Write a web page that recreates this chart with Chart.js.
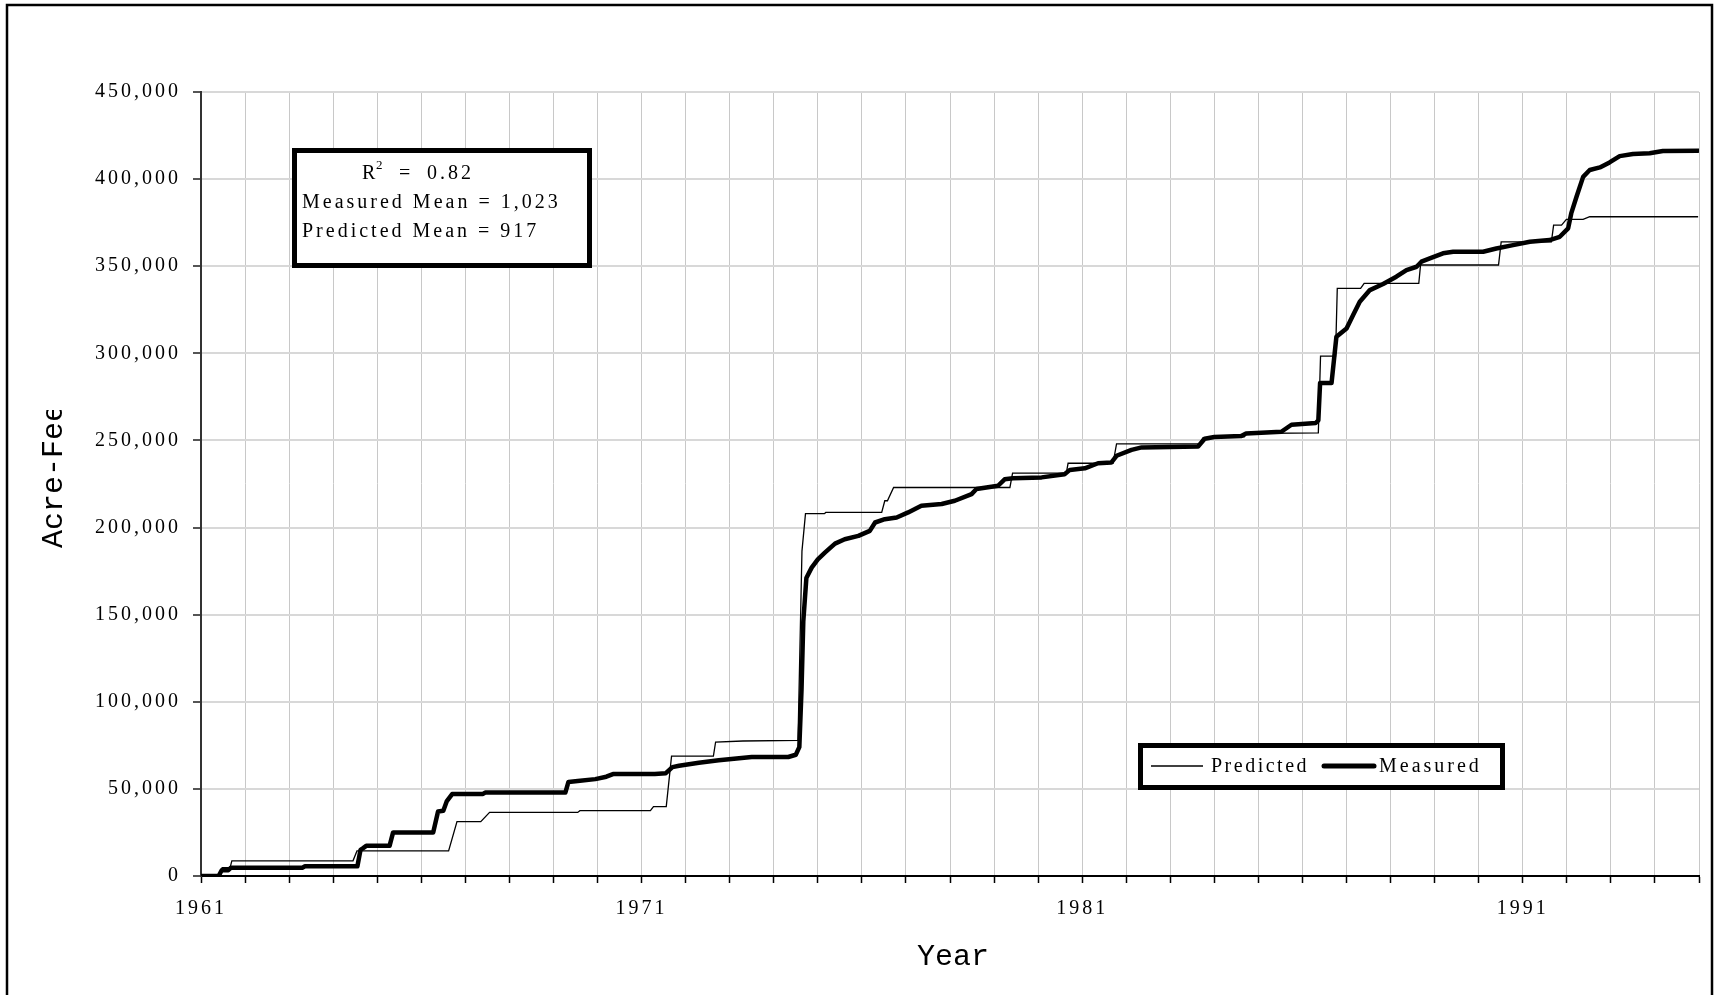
<!DOCTYPE html>
<html>
<head>
<meta charset="utf-8">
<script src="https://cdn.jsdelivr.net/npm/chart.js@4/dist/chart.umd.min.js"></script>
<style>
  html, body { margin: 0; padding: 0; background: #fff; }
  canvas { display: block; }
</style>
</head>
<body>
<canvas id="c" width="1715" height="995"></canvas>
<script>
// ---- Data ----
const measuredYears = [
  1961.00, 1961.40, 1961.47, 1961.62, 1961.68, 1963.30, 1963.36, 1964.55, 1964.62, 1964.68,
  1964.75, 1965.28, 1965.36, 1966.27, 1966.38, 1966.50, 1966.58, 1966.70, 1967.40, 1967.45,
  1969.27, 1969.34, 1969.55, 1969.95, 1970.20, 1970.35, 1971.30, 1971.55, 1971.70, 1971.85,
  1972.30, 1972.75, 1973.50, 1974.33, 1974.50, 1974.58, 1974.63, 1974.67, 1974.74, 1974.86,
  1975.00, 1975.16, 1975.39, 1975.61, 1975.92, 1976.18, 1976.30, 1976.52, 1976.79, 1977.05,
  1977.35, 1977.81, 1978.11, 1978.49, 1978.60, 1979.09, 1979.24, 1979.43, 1980.08, 1980.60,
  1980.72, 1981.06, 1981.36, 1981.66, 1981.78, 1982.12, 1982.35, 1983.63, 1983.78, 1984.00,
  1984.61, 1984.72, 1985.52, 1985.75, 1986.30, 1986.36, 1986.40, 1986.66, 1986.77, 1987.00,
  1987.15, 1987.30, 1987.53, 1987.83, 1988.13, 1988.36, 1988.59, 1988.70, 1988.89, 1989.19,
  1989.42, 1990.10, 1990.40, 1990.78, 1991.16, 1991.61, 1991.84, 1992.03, 1992.10, 1992.22,
  1992.37, 1992.52, 1992.75, 1992.97, 1993.20, 1993.50, 1993.88, 1994.18, 1994.98
];
const measuredAcreFeet = [
  0, 0, 3300, 3300, 4800, 4800, 5600, 5600, 15000, 16000,
  17300, 17300, 25000, 25000, 37000, 37500, 43000, 47000, 47100, 47900,
  47900, 54000, 54500, 55600, 57000, 58500, 58500, 59000, 62500, 63300,
  65000, 66400, 68300, 68300, 69600, 74000, 107000, 146000, 171000, 177000,
  181700, 185600, 190800, 193300, 195200, 198100, 202900, 204800, 205800, 208700,
  212500, 213500, 215400, 219200, 222100, 224000, 227700, 228300, 228800, 230600,
  233100, 234000, 236900, 237300, 241200, 244600, 246000, 246500, 251000, 252000,
  252500, 254000, 255000, 259000, 260000, 261500, 283000, 283000, 309500, 314300,
  322000, 329600, 336300, 339800, 344000, 347800, 349700, 352600, 354500, 357400,
  358300, 358300, 360200, 362100, 364000, 365000, 366900, 371700, 380300, 389900,
  401300, 405200, 406700, 409600, 413200, 414400, 414800, 416100, 416300
];
const predictedYears = [
  1961.00, 1961.44, 1961.48, 1961.66, 1961.70, 1964.45, 1964.54, 1966.62, 1966.81, 1967.35,
  1967.55, 1969.55, 1969.60, 1971.20, 1971.27, 1971.56, 1971.68, 1972.63, 1972.68, 1973.30,
  1974.55, 1974.64, 1974.72, 1975.15, 1975.18, 1976.45, 1976.52, 1976.58, 1976.72, 1979.36,
  1979.42, 1980.64, 1980.68, 1981.70, 1981.78, 1983.66, 1983.74, 1984.68, 1984.72, 1986.36,
  1986.41, 1986.75, 1986.79, 1987.32, 1987.40, 1988.64, 1988.68, 1990.45, 1990.51, 1991.65,
  1991.70, 1991.88, 1991.99, 1992.37, 1992.52, 1994.98
];
const predictedAcreFeet = [
  0, 0, 4800, 4800, 8700, 8700, 14400, 14400, 31200, 31200,
  36500, 36500, 37500, 37500, 39800, 39800, 68800, 68800, 76900, 77500,
  77900, 186500, 208000, 208000, 208700, 208700, 215400, 215400, 223000, 223000,
  231200, 231200, 236900, 236900, 248000, 248000, 251500, 252000, 254000, 254300,
  298400, 298400, 337300, 337300, 340100, 340100, 350700, 350700, 364000, 364000,
  373600, 373600, 376900, 376900, 378400, 378400
];
const xTickLabels = [1961, 1971, 1981, 1991];
const yTickValues = [0, 50000, 100000, 150000, 200000, 250000, 300000, 350000, 400000, 450000];
const statsLines = ['Measured Mean = 1,023', 'Predicted Mean = 917'];
const rSquared = '0.82';

const SERIF = '"Liberation Serif", "Times New Roman", serif';
const MONO = '"Liberation Mono", "Courier New", monospace';

function toPoints(xs, ys) { return xs.map((x, i) => ({ x: x, y: ys[i] })); }

const decorPlugin = {
  id: 'decor',
  beforeDraw(chart) {
    chart.ctx.letterSpacing = '3px';
  },
  afterDraw(chart) {
    const ctx = chart.ctx;
    ctx.save();
    ctx.letterSpacing = '0px';
    // outer frame
    ctx.strokeStyle = '#000';
    ctx.lineWidth = 2.5;
    ctx.strokeRect(7, 5, 1705, 1010);

    // stats box
    ctx.fillStyle = '#fff';
    ctx.fillRect(292, 148, 300, 120);
    ctx.lineWidth = 5;
    ctx.strokeRect(294.5, 150.5, 295, 115);
    ctx.fillStyle = '#000';
    ctx.textBaseline = 'alphabetic';
    ctx.textAlign = 'left';
    ctx.letterSpacing = '3px';
    ctx.font = '20px ' + SERIF;
    ctx.fillText('R', 362, 179);
    ctx.font = '13px ' + SERIF;
    ctx.letterSpacing = '0px';
    ctx.fillText('2', 376, 169);
    ctx.letterSpacing = '3px';
    ctx.font = '20px ' + SERIF;
    ctx.fillText('=', 399, 179);
    ctx.fillText(rSquared, 427, 179);
    ctx.fillText(statsLines[0], 302, 208);
    ctx.fillText(statsLines[1], 302, 237);

    // legend box
    ctx.fillStyle = '#fff';
    ctx.fillRect(1138, 743, 367, 47);
    ctx.lineWidth = 5;
    ctx.strokeStyle = '#000';
    ctx.strokeRect(1140.5, 745.5, 362, 42);
    const dsP = chart.data.datasets[0];
    const dsM = chart.data.datasets[1];
    ctx.lineCap = 'butt';
    ctx.lineWidth = dsP.borderWidth;
    ctx.beginPath(); ctx.moveTo(1151, 766); ctx.lineTo(1203, 766); ctx.stroke();
    ctx.lineCap = 'round';
    ctx.lineWidth = 5;
    ctx.beginPath(); ctx.moveTo(1324, 766); ctx.lineTo(1374, 766); ctx.stroke();
    ctx.fillStyle = '#000';
    ctx.font = '20px ' + SERIF;
    ctx.letterSpacing = '2.5px';
    ctx.fillText(dsP.label, 1211, 772);
    ctx.letterSpacing = '3px';
    ctx.fillText(dsM.label, 1379, 772);

    // x axis title
    ctx.font = '30px ' + MONO;
    ctx.letterSpacing = '0px';
    const xt = 'Year';
    const w = ctx.measureText(xt).width;
    ctx.fillText(xt, 953 - w / 2, 965);

    // y axis title (clipped like the reference)
    ctx.save();
    ctx.beginPath();
    ctx.rect(0, 410, 150, 300);
    ctx.clip();
    ctx.translate(62, 548);
    ctx.rotate(-Math.PI / 2);
    ctx.fillText('Acre-Feet', 0, 0);
    ctx.restore();

    ctx.restore();
  }
};

const chart = new Chart(document.getElementById('c').getContext('2d'), {
  type: 'line',
  data: {
    datasets: [
      {
        label: 'Predicted',
        data: toPoints(predictedYears, predictedAcreFeet),
        borderColor: '#000',
        borderWidth: 1.3,
        pointRadius: 0,
        tension: 0,
        fill: false,
        order: 1
      },
      {
        label: 'Measured',
        data: toPoints(measuredYears, measuredAcreFeet),
        borderColor: '#000',
        borderWidth: 4.5,
        borderJoinStyle: 'round',
        borderCapStyle: 'round',
        pointRadius: 0,
        tension: 0,
        fill: false,
        order: 0
      }
    ]
  },
  options: {
    responsive: false,
    animation: false,
    devicePixelRatio: 1,
    layout: { padding: { left: 0, right: 16, top: 92, bottom: 0 } },
    plugins: { legend: { display: false }, tooltip: { enabled: false } },
    scales: {
      x: {
        type: 'linear',
        min: 1961,
        max: 1995,
        afterFit(scale) { scale.height = 119; },
        ticks: {
          stepSize: 1,
          autoSkip: false,
          maxRotation: 0,
          minRotation: 0,
          padding: 14,
          color: '#000',
          font: { family: SERIF, size: 20 },
          callback: (v) => xTickLabels.includes(v) ? String(v) : ''
        },
        grid: { color: '#c8c8c8', lineWidth: 1, tickLength: 7, tickColor: '#000', tickWidth: 1.5 },
        border: { color: '#000', width: 2 }
      },
      y: {
        min: 0,
        max: 450000,
        afterFit(scale) { scale.width = 201; },
        afterBuildTicks(scale) { scale.ticks = yTickValues.map(v => ({ value: v })); },
        ticks: {
          padding: 12,
          color: '#000',
          font: { family: SERIF, size: 20 },
          callback: (v) => v.toLocaleString('en-US')
        },
        grid: { color: '#d8d8d8', lineWidth: 2, tickLength: 8, tickColor: '#555', tickWidth: 2 },
        border: { color: '#333', width: 2 }
      }
    }
  },
  plugins: [decorPlugin]
});
</script>
</body>
</html>
